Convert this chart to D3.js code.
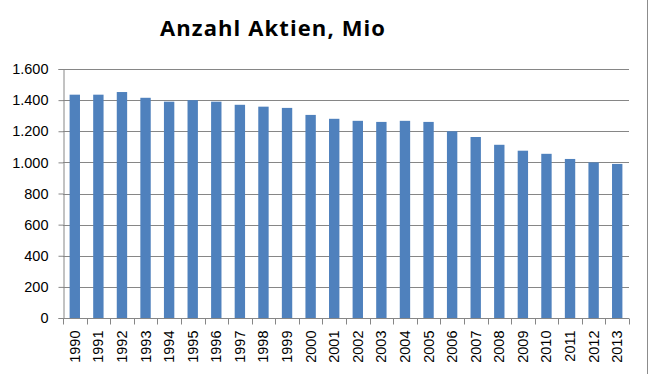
<!DOCTYPE html>
<html>
<head>
<meta charset="utf-8">
<script src="https://cdn.jsdelivr.net/npm/d3@7"></script>
<style>
  html, body { margin: 0; padding: 0; background: #fff; }
  svg { display: block; }
</style>
</head>
<body>
<svg id="chart" width="648" height="374"></svg>
<script>
const years = ['1990', '1991', '1992', '1993', '1994', '1995', '1996', '1997', '1998', '1999',
  '2000', '2001', '2002', '2003', '2004', '2005', '2006', '2007', '2008', '2009',
  '2010', '2011', '2012', '2013'];
const shares = [1435, 1435, 1452, 1415, 1390, 1400, 1390, 1370, 1358, 1350,
  1305, 1280, 1267, 1260, 1267, 1260, 1200, 1163, 1113, 1075,
  1055, 1022, 1000, 990];
const yTicks = [0, 200, 400, 600, 800, 1000, 1200, 1400, 1600];
const title = 'Anzahl Aktien, Mio';

const svg = d3.select('#chart');
const width = 648;
const height = 374;
const margin = { top: 69, right: 19, bottom: 56, left: 63 };

const de = d3.formatLocale({ decimal: ',', thousands: '.', grouping: [3], currency: ['', ' €'] });
const fmt = de.format(',d');

const x = d3.scaleBand()
  .domain(years)
  .range([margin.left, width - margin.right])
  .paddingInner(0.56)
  .paddingOuter(0.28);

const y = d3.scaleLinear()
  .domain([0, 1600])
  .range([height - margin.bottom, margin.top]);

// chart frame edge on the right
svg.append('line')
  .attr('x1', 647.5).attr('x2', 647.5)
  .attr('y1', 0).attr('y2', height)
  .attr('stroke', '#8c8c8c').attr('stroke-width', 1);

// gridlines
svg.append('g')
  .selectAll('line')
  .data(yTicks.filter(d => d > 0))
  .join('line')
  .attr('x1', margin.left)
  .attr('x2', width - margin.right)
  .attr('y1', d => Math.round(y(d)) + 0.5)
  .attr('y2', d => Math.round(y(d)) + 0.5)
  .attr('stroke', '#868686')
  .attr('stroke-width', 1);

// bars
svg.append('g')
  .selectAll('rect')
  .data(years.map((yr, i) => ({ yr, v: shares[i] })))
  .join('rect')
  .attr('x', d => x(d.yr))
  .attr('width', x.bandwidth())
  .attr('y', d => y(d.v))
  .attr('height', d => y(0) - y(d.v))
  .attr('fill', '#4f81bd');

// y axis
const yAxis = svg.append('g')
  .attr('transform', `translate(${margin.left + 0.5},0)`)
  .call(d3.axisLeft(y).tickValues(yTicks).tickFormat(fmt).tickSize(5).tickPadding(10));
yAxis.selectAll('path, line').attr('stroke', '#868686');
yAxis.selectAll('text')
  .attr('font-family', 'Liberation Sans, Arial, sans-serif')
  .attr('font-size', 14.5)
  .attr('fill', '#000');

// x axis with ticks between categories
const xAxis = svg.append('g')
  .attr('transform', `translate(0,${Math.round(y(0)) + 0.5})`);
xAxis.append('line')
  .attr('x1', margin.left).attr('x2', width - margin.right)
  .attr('stroke', '#868686');
const bounds = d3.range(years.length + 1).map(i => margin.left + (width - margin.left - margin.right) * i / years.length);
xAxis.selectAll('line.tick')
  .data(bounds)
  .join('line')
  .attr('class', 'tick')
  .attr('x1', d => Math.round(d) + 0.5).attr('x2', d => Math.round(d) + 0.5)
  .attr('y1', 0).attr('y2', 6)
  .attr('stroke', '#868686');
xAxis.selectAll('text')
  .data(years)
  .join('text')
  .attr('transform', d => `translate(${x(d) + x.bandwidth() / 2 + 5},12) rotate(-90)`)
  .attr('text-anchor', 'end')
  .attr('font-family', 'Liberation Sans, Arial, sans-serif')
  .attr('font-size', 14.5)
  .attr('fill', '#000')
  .text(d => d);

// title, spaced out a little to span the same width as the original
const titleEl = svg.append('text')
  .attr('x', 273)
  .attr('y', 36)
  .attr('text-anchor', 'middle')
  .attr('font-family', '"Open Sans", Lato, sans-serif')
  .attr('font-weight', 'bold')
  .attr('font-size', 22)
  .attr('fill', '#000')
  .text(title);
const w = titleEl.node().getComputedTextLength();
if (w < 225) titleEl.attr('letter-spacing', (225 - w) / (title.length - 1));
</script>
</body>
</html>
